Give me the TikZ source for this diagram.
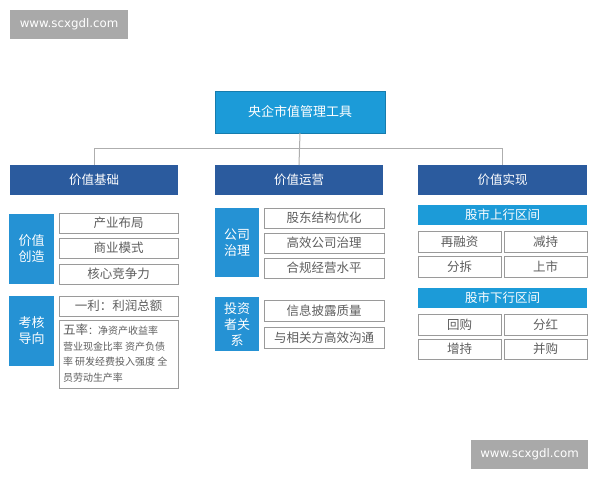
\documentclass[tikz,border=0pt]{standalone}
\usepackage{fontspec}
\setmainfont{Noto Sans CJK SC}
\newfontfamily\wmfont{DejaVu Sans}
\definecolor{darkb}{HTML}{2B5B9E}
\definecolor{lightb}{HTML}{1C9BD8}
\definecolor{sideb}{HTML}{2592D4}
\definecolor{itemtxt}{HTML}{5E5E5E}
\definecolor{itemln}{HTML}{9A9A9A}
\definecolor{wm}{HTML}{A9A9A9}
\newcommand\bx[7]{\node[#6, minimum width={(#4-#2)*1pt}, minimum height={(#5-#3)*1pt}] (#1) at ({(#2+#4)/2},{(#3+#5)/2}) {#7};}
\begin{document}
\begin{tikzpicture}[x=1pt,y=-1pt,
  every node/.style={inner sep=0pt, outer sep=0pt},
  topbox/.style={fill=lightb, draw=lightb!80!black, line width=0.6pt, text=white, font=\fontsize{13}{15}\selectfont},
  headbox/.style={fill=darkb, text=white, font=\fontsize{12.5}{15}\selectfont},
  sidebox/.style={fill=sideb, text=white, align=center, font=\fontsize{13}{16}\selectfont},
  barbox/.style={fill=lightb, text=white, font=\fontsize{12.5}{15}\selectfont},
  itembox/.style={draw=itemln, line width=1pt, fill=white, text=itemtxt, font=\fontsize{12.5}{15}\selectfont},
  wmbox/.style={fill=wm, text=white, font=\wmfont\fontsize{11.8}{13}\selectfont},
  conn/.style={draw=itemln!80, line width=1pt}
]
\useasboundingbox[fill=white] (0,0) rectangle (600,480);
% watermarks
\bx{wm1}{10}{10}{128}{39}{wmbox}{www.scxgdl.com}
\bx{wm2}{471}{440}{588}{469}{wmbox}{www.scxgdl.com}
% top
\bx{top}{215}{91}{385}{133}{topbox}{央企市值管理工具}
% headers
\bx{h1}{10}{165}{178}{195}{headbox}{价值基础}
\bx{h2}{215}{165}{383}{195}{headbox}{价值运营}
\bx{h3}{418}{165}{587}{195}{headbox}{价值实现}
% connectors
\coordinate (bus) at (300,148);
\draw[conn] (top.south) -- (h2.north);
\draw[conn] (h1.north) -- (h1.north |- bus) -- (h3.north |- bus) -- (h3.north);
% left column
\bx{s1}{9}{214}{54}{284}{sidebox}{价值\\创造}
\bx{a1}{59}{213}{178}{233}{itembox}{产业布局}
\bx{a2}{59}{238}{178}{258}{itembox}{商业模式}
\bx{a3}{59}{264}{178}{284}{itembox}{核心竞争力}
\bx{s2}{9}{296}{54}{366}{sidebox}{考核\\导向}
\bx{a4}{59}{296}{178}{316}{itembox}{一利：利润总额}
\bx{a5}{59}{320}{178}{388}{itembox}{}
\node[anchor=north west, text=itemtxt, align=left, font=\fontsize{10}{15.5}\selectfont] (a5t) at (63,324)
  {{\fontsize{12.5}{15}\selectfont 五率}：净资产收益率\\营业现金比率 资产负债\\率 研发经费投入强度 全\\员劳动生产率};
% middle column
\bx{s3}{215}{208}{259}{277}{sidebox}{公司\\治理}
\bx{b1}{264}{208}{384}{228}{itembox}{股东结构优化}
\bx{b2}{264}{233}{384}{253}{itembox}{高效公司治理}
\bx{b3}{264}{258}{384}{278}{itembox}{合规经营水平}
\bx{s4}{215}{297}{259}{351}{sidebox}{投资\\者关\\系}
\bx{b4}{264}{300}{384}{321}{itembox}{信息披露质量}
\bx{b5}{264}{327}{384}{348}{itembox}{与相关方高效沟通}
% right column
\bx{r0}{418}{205}{587}{225}{barbox}{股市上行区间}
\bx{r1}{418}{231}{501}{252}{itembox}{再融资}
\bx{r2}{504}{231}{587}{252}{itembox}{减持}
\bx{r3}{418}{256}{501}{277}{itembox}{分拆}
\bx{r4}{504}{256}{587}{277}{itembox}{上市}
\bx{r5}{418}{288}{587}{308}{barbox}{股市下行区间}
\bx{r6}{418}{314}{501}{335}{itembox}{回购}
\bx{r7}{504}{314}{587}{335}{itembox}{分红}
\bx{r8}{418}{339}{501}{359}{itembox}{增持}
\bx{r9}{504}{339}{587}{359}{itembox}{并购}
\end{tikzpicture}
\end{document}
